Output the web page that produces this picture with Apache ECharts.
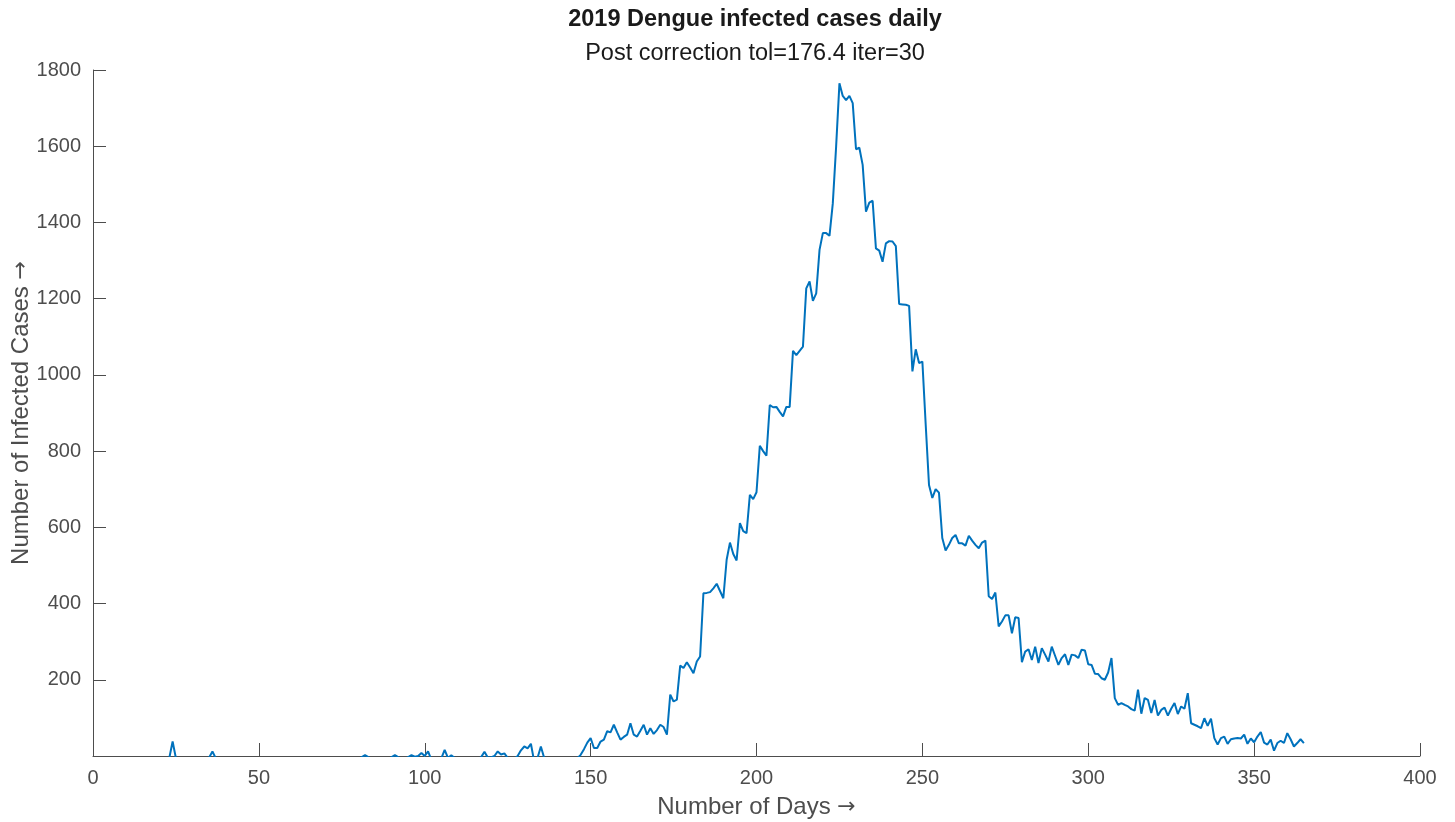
<!DOCTYPE html>
<html>
<head>
<meta charset="utf-8">
<script src="https://cdn.jsdelivr.net/npm/echarts@6/dist/echarts.min.js"></script>
<style>
html,body{margin:0;padding:0;background:#fff;}
#chart{width:1455px;height:822px;}
</style>
</head>
<body>
<div id="chart"></div>
<script>
// Daily values, day 1 .. day 365 (negative values fall below the axis and are clipped)
const early = [ // days 1-60
  -8,-8,-8,-8,-8,-8,-8,-8,-8,-8,
  -8,-8,-8,-8,-8,-8,-8,-8,-8,-8,
  -8,-8,-5,38,-6,-8,-8,-8,-8,-8,
  -8,-8,-8,-8,-4,12,-6,-8,-8,-8,
  -8,-8,-8,-8,-8,-8,-8,-8,-8,-8,
  -8,-8,-8,-8,-8,-8,-8,-8,-8,-8
];
const preSeason = [ // days 61-146
  -8,-8,-8,-8,-8,-8,-8,-8,-8,-8,
  -8,-8,-8,-8,-8,-8,-8,-8,-8,-8,
  -3,2,-3,-8,-8,-8,-8,-8,-8,-3,
  2,-3,-8,-8,-3,2,-2,0,8,0,
  12,-10,-8,-8,-6,16,-5,2,-5,-8,
  -8,-8,-8,-8,-8,-8,-3,11,-4,-4,
  0,12,4,7,-5,-8,-8,0,15,25,
  20,32,-15,-5,25,-5,-8,-8,-8,-8,
  -8,-8,-8,-8,-8,-6
];
const season = [ // days 147-365
  3,18,35,47,21,21,38,43,65,62,
  82,62,43,50,56,86,56,51,66,82,
  56,73,58,68,82,76,56,161,143,148,
  237,231,246,232,217,248,261,427,428,430,
  440,452,433,414,515,560,530,513,611,590,
  585,685,674,692,814,800,788,921,915,916,
  903,891,916,916,1063,1052,1063,1074,1227,1245,
  1194,1214,1328,1372,1372,1365,1450,1599,1765,1732,
  1721,1732,1713,1592,1596,1551,1428,1452,1457,1332,
  1326,1297,1345,1351,1350,1338,1186,1185,1184,1181,
  1009,1067,1031,1035,870,711,677,700,691,572,
  539,554,572,580,558,558,552,578,565,554,
  545,560,565,419,412,429,340,353,369,369,
  322,364,362,246,274,280,252,287,244,283,
  266,248,287,263,239,257,267,239,266,264,
  257,279,277,241,239,216,215,204,200,219,
  257,152,134,139,134,130,123,119,174,111,
  152,147,113,147,106,121,127,106,124,139,
  110,130,124,165,86,82,78,73,99,79,
  98,47,30,47,51,32,44,46,47,46,
  56,32,46,36,51,63,35,30,43,14,
  34,40,34,60,44,25,34,44,34
];
const values = early.concat(preSeason, season);
const days = values.map((_, i) => i + 1);
const xTicks = [0, 50, 100, 150, 200, 250, 300, 350, 400];
const yTicks = [200, 400, 600, 800, 1000, 1200, 1400, 1600, 1800];

const FONT = "'Liberation Sans', Arial, Helvetica, sans-serif";
const AXIS_COLOR = '#4d4d4d';
const TEXT_COLOR = '#4d4d4d';
const TICK_FS = 20;
const LABEL_FS = 24;
const TITLE_FS = 23.5;
const arrowRich = {a: {fontFamily: "'DejaVu Sans'", fontSize: LABEL_FS - 2, color: TEXT_COLOR}};

const chart = echarts.init(document.getElementById('chart'), null, {renderer: 'canvas'});
chart.setOption({
  animation: false,
  backgroundColor: '#ffffff',
  textStyle: {fontFamily: FONT},
  title: [
    {
      text: '2019 Dengue infected cases daily',
      left: 750, top: 3, textAlign: 'center',
      textStyle: {fontFamily: FONT, fontSize: TITLE_FS, fontWeight: 'bold', color: '#1a1a1a'}
    },
    {
      text: 'Post correction tol=176.4 iter=30',
      left: 750, top: 37, textAlign: 'center',
      textStyle: {fontFamily: FONT, fontSize: TITLE_FS, fontWeight: 'normal', color: '#1a1a1a'}
    }
  ],
  grid: {left: 93, right: 35, top: 70, bottom: 66, containLabel: false, outerBoundsMode: 'none'},
  xAxis: {
    type: 'value', min: 0, max: 400, interval: 50,
    name: 'Number of Days {a|\u2192}', nameLocation: 'middle', nameGap: 39,
    nameTextStyle: {fontFamily: FONT, fontSize: LABEL_FS, color: TEXT_COLOR, rich: arrowRich},
    axisLine: {show: true, onZero: false, lineStyle: {color: AXIS_COLOR, width: 1}},
    axisTick: {show: true, inside: true, length: 13, lineStyle: {color: AXIS_COLOR, width: 1},
               customValues: xTicks},
    axisLabel: {fontFamily: FONT, fontSize: TICK_FS, color: TEXT_COLOR, margin: 12, customValues: xTicks,
                formatter: v => String(v)},
    splitLine: {show: false}
  },
  yAxis: {
    type: 'value', min: 0, max: 1800, interval: 200,
    name: 'Number of Infected Cases {a|\u2192}', nameLocation: 'middle', nameGap: 60, nameRotate: 90,
    nameMoveOverlap: false,
    nameTextStyle: {fontFamily: FONT, fontSize: LABEL_FS, color: TEXT_COLOR, rich: arrowRich},
    axisLine: {show: true, onZero: false, lineStyle: {color: AXIS_COLOR, width: 1}},
    axisTick: {show: true, inside: true, length: 13, lineStyle: {color: AXIS_COLOR, width: 1},
               customValues: yTicks},
    axisLabel: {fontFamily: FONT, fontSize: TICK_FS, color: TEXT_COLOR, margin: 12, customValues: yTicks,
                formatter: v => String(v)},
    splitLine: {show: false}
  },
  series: [{
    type: 'line',
    data: days.map((d, i) => [d, values[i]]),
    showSymbol: false,
    symbol: 'none',
    clip: true,
    lineStyle: {color: '#0072BD', width: 2},
    itemStyle: {color: '#0072BD'}
  }]
});
</script>
</body>
</html>
